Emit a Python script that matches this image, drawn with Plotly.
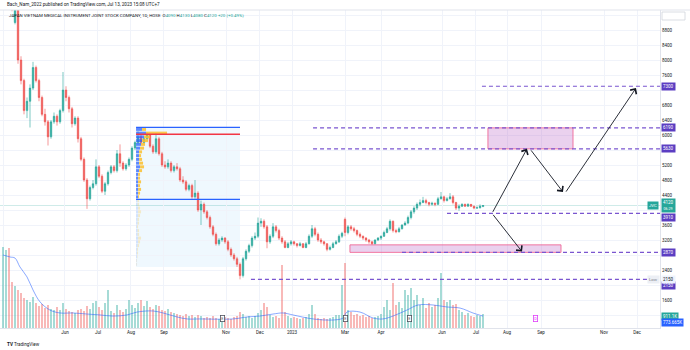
import plotly.graph_objects as go

# ---------------- daily candles (two trading days per bar) ----------------
open_ = [9600, 10150, 10450, 9850, 9000, 9400, 8000, 7450, 6650, 6900,
         7250, 7800, 7450, 7000, 6550, 6350, 5950, 6350, 6500, 6350,
         6650, 7200, 7000, 6700, 6300, 6450, 5900, 5350, 4800, 4300,
         4600, 4700, 5150, 4900, 4500, 4700, 5000, 5150, 5050, 5500,
         5250, 5100, 5200, 5350, 5650, 5800, 5950, 5800, 5900, 6000,
         5700, 5550, 5900, 5500, 5200, 5150, 5250, 5050, 5150, 5100,
         4800, 4750, 4550, 4650, 4350, 4450, 4000, 4150, 3950, 3800,
         3550, 3350, 3100, 3200, 3250, 3150, 2950, 2800, 2700, 2550,
         2250, 2700, 2900, 3050, 3250, 3300, 3650, 3700, 3550, 3150,
         3300, 3550, 3450, 3250, 3150, 3000, 3100, 3150, 3100, 3050,
         3100, 3000, 3100, 3300, 3500, 3350, 3200, 3150, 3100, 2950,
         3000, 3100, 3150, 3300, 3750, 3400, 3550, 3500, 3450, 3350,
         3300, 3250, 3200, 3150, 3100, 3200, 3250, 3300, 3400, 3500,
         3700, 3450, 3420, 3500, 3600, 3650, 3800, 3950, 4050, 4150,
         4200, 4250, 4200, 4150, 4180, 4150, 4300, 4350, 4250, 4300,
         4350, 4200, 4050, 4100, 4150, 4100, 4150, 4100, 4050, 4060,
         4090]
high = [10250, 10600, 10550, 9950, 9450, 9450, 8100, 7500, 7000, 7350,
        7950, 7850, 7500, 7050, 6700, 6400, 6400, 6600, 6550, 6700,
        7680, 7300, 7050, 6750, 6500, 6500, 5950, 5400, 4850, 4650,
        4800, 5350, 5200, 4950, 4750, 5050, 5200, 5200, 5600, 5750,
        5300, 5250, 5400, 5700, 5850, 6100, 6000, 5950, 6080, 6020,
        5750, 6050, 5950, 5550, 5300, 5350, 5300, 5200, 5250, 5150,
        4900, 4800, 4700, 4700, 4800, 4500, 4250, 4200, 4000, 3850,
        3600, 3400, 3250, 3300, 3280, 3200, 3000, 2850, 2750, 2600,
        2750, 2950, 3100, 3300, 3400, 3800, 3780, 3750, 3600, 3350,
        3650, 3600, 3500, 3300, 3200, 3150, 3200, 3180, 3120, 3150,
        3120, 3150, 3350, 3600, 3550, 3400, 3250, 3180, 3120, 3050,
        3150, 3200, 3350, 3420, 3800, 3600, 3600, 3550, 3480, 3400,
        3320, 3280, 3230, 3180, 3220, 3280, 3320, 3450, 3550, 3750,
        3720, 3500, 3550, 3620, 3700, 3850, 4000, 4100, 4200, 4280,
        4350, 4300, 4220, 4220, 4200, 4350, 4480, 4380, 4350, 4450,
        4400, 4220, 4150, 4180, 4170, 4180, 4160, 4110, 4100, 4150,
        4130]
low = [9500, 10000, 9750, 9300, 8950, 7900, 7350, 6550, 6450, 6200,
       7200, 7400, 6900, 6500, 6250, 5720, 5900, 6300, 6250, 6300,
       6600, 6900, 6600, 6200, 6250, 5800, 5300, 4750, 4030, 4250,
       4550, 4650, 4850, 4450, 4400, 4650, 4950, 5000, 5000, 5150,
       5050, 5050, 5150, 5300, 5600, 5750, 5750, 5750, 5850, 5650,
       5500, 5500, 5450, 5150, 5100, 5100, 5000, 5000, 5050, 4750,
       4700, 4500, 4500, 4300, 4300, 3950, 3600, 3900, 3750, 3500,
       3300, 3050, 3050, 3150, 3100, 2900, 2750, 2650, 2480, 2150,
       2200, 2650, 2850, 3000, 3200, 3250, 3550, 3500, 2980, 3100,
       3250, 3400, 3200, 3100, 2980, 2980, 3050, 3050, 3000, 3030,
       2980, 2980, 3080, 3250, 3300, 3150, 3100, 3050, 2900, 2920,
       2980, 3080, 3120, 3250, 3300, 3350, 3450, 3400, 3300, 3250,
       3200, 3150, 3100, 3070, 3080, 3170, 3200, 3280, 3380, 3450,
       3400, 3380, 3400, 3480, 3580, 3620, 3750, 3900, 4000, 4100,
       4180, 4150, 4100, 4120, 4100, 4130, 4280, 4200, 4230, 4280,
       4150, 4000, 3980, 4080, 4080, 4090, 4080, 4020, 4030, 4040,
       4080]
close = [10150, 10450, 9850, 9350, 9400, 8000, 7450, 6650, 6900, 7250,
         7800, 7450, 7000, 6550, 6350, 5950, 6350, 6500, 6350, 6650,
         7200, 7000, 6700, 6300, 6450, 5900, 5350, 4800, 4300, 4600,
         4700, 5150, 4900, 4500, 4700, 5000, 5150, 5050, 5500, 5250,
         5100, 5200, 5350, 5650, 5800, 5950, 5800, 5900, 6000, 5700,
         5550, 5900, 5500, 5200, 5150, 5250, 5050, 5150, 5100, 4800,
         4750, 4550, 4650, 4350, 4450, 4000, 4150, 3950, 3800, 3550,
         3350, 3100, 3200, 3250, 3150, 2950, 2800, 2700, 2550, 2250,
         2700, 2900, 3050, 3250, 3300, 3650, 3700, 3550, 3150, 3300,
         3550, 3450, 3250, 3150, 3000, 3100, 3150, 3100, 3050, 3100,
         3000, 3100, 3300, 3500, 3350, 3200, 3150, 3100, 2950, 3000,
         3100, 3150, 3300, 3380, 3400, 3550, 3500, 3450, 3350, 3300,
         3250, 3200, 3150, 3100, 3200, 3250, 3300, 3400, 3500, 3700,
         3450, 3420, 3500, 3600, 3650, 3800, 3950, 4050, 4150, 4200,
         4250, 4200, 4150, 4180, 4150, 4300, 4350, 4250, 4300, 4350,
         4200, 4050, 4100, 4150, 4100, 4150, 4100, 4050, 4060, 4100,
         4120]
volume_k = [5280, 5090, 5220, 3000, 2740, 2480, 2280, 1950, 1830, 1700,
            2020, 1630, 1430, 1560, 1300, 1500, 1240, 1170, 1370, 1170,
            1630, 1240, 1110, 1040, 980, 1170, 1240, 1110, 1430, 1240,
            1630, 1760, 1370, 1170, 1630, 2480, 1110, 980, 1500, 1170,
            1040, 1240, 1830, 1500, 1300, 1630, 1830, 1430, 1760, 1370,
            1240, 1500, 1430, 1170, 1110, 1240, 1040, 980, 910, 850,
            780, 910, 780, 850, 720, 850, 780, 650, 720, 650,
            780, 650, 590, 650, 720, 650, 590, 720, 780, 1040,
            910, 720, 780, 650, 780, 980, 1170, 1630, 1370, 850,
            720, 780, 650, 4110, 1040, 780, 650, 720, 650, 590,
            650, 720, 910, 1500, 910, 650, 590, 650, 590, 650,
            720, 850, 850, 2800, 4240, 1170, 1040, 850, 910, 780,
            850, 720, 780, 650, 720, 780, 910, 1370, 1830, 1170,
            2930, 1500, 1700, 1300, 2480, 2150, 2610, 1830, 2150, 1500,
            1960, 1300, 1630, 1370, 1500, 1960, 3590, 1830, 1700, 1830,
            1500, 1560, 1170, 1040, 850, 980, 780, 720, 850, 780,
            911.1]
bar_day = list(range(0, 2 * len(close), 2))

# 20-day volume moving average
vol_ma_day = [0, 4.7, 8, 11.3, 16, 20, 24.7, 31.3, 38, 46.7, 56, 64.7, 73.3,
              82.7, 89.3, 100, 106.7, 116, 122.7, 131.3, 153.3, 162.7, 171.3,
              180, 186.7, 193.3, 206.7, 220, 226.7, 229.3, 238, 246.7, 253.3,
              260, 269.3, 276.7, 286.7, 296, 304.7, 313.3, 320]
vol_ma_k = [4760, 4630, 4560, 3980, 3330, 2480, 1700, 1170, 980, 980, 910,
            850, 780, 850, 1040, 1110, 980, 720, 590, 590, 590, 720, 780,
            910, 980, 850, 590, 520, 650, 1040, 1040, 650, 590, 780, 1170,
            1500, 1500, 1370, 1300, 980, 773.665]

# time axis
month_day = [0, 41.3, 63.3, 85.3, 107.3, 148.7, 171.3, 192.7, 228, 252,
             292.7, 315.3, 336, 358.7, 400.7, 422.7]
month_label = ["Apr", "Jun", "Jul", "Aug", "Sep", "Nov", "Dec", "2023", "Mar",
               "Apr", "Jun", "Jul", "Aug", "Sep", "Nov", "Dec"]

# price axis
price_tick = [1200, 1600, 2000, 2400, 2800, 3200, 3600, 4000, 4400, 4800, 5200,
              5600, 6000, 6400, 6800, 7200, 7600, 8000, 8400, 8800, 9200]
price_tick_label = ["", "1600", "", "2400", "", "3200", "3600", "", "4400",
                    "4800", "5200", "", "6000", "6400", "6800", "", "7600",
                    "8000", "8400", "8800", ""]

# fixed-range volume profile (Aug - early Nov 2022), thousand shares per row
vp_price = [6150, 6050, 5950, 5850, 5750, 5650, 5550, 5450, 5350, 5250, 5150,
            5050, 4950, 4850, 4750, 4650, 4550, 4450, 4350, 4250, 4150, 4050,
            3950, 3850, 3750, 3650, 3550, 3450, 3350, 3250, 3150, 3050, 2950,
            2850, 2750, 2650, 2550]
vp_up_k = [3000, 5000, 4000, 3000, 2500, 2000, 1500, 1500, 1500, 1500, 2000,
           1500, 1000, 1000, 1000, 1000, 1000, 1000, 1000, 750, 750, 1000,
           1000, 1000, 750, 750, 500, 750, 750, 1000, 1000, 750, 500, 500,
           500, 250, 250]
vp_down_k = [2000, 10500, 3000, 3000, 2000, 2000, 1500, 1000, 1500, 2000, 2000,
             1500, 1000, 1000, 1500, 1000, 1500, 1000, 500, 750, 750, 1000,
             1500, 1000, 750, 750, 500, 750, 750, 1500, 1000, 750, 500, 500,
             250, 250, 250]
vp_day_range = [88.7, 158]
vp_price_range = [2480, 6205]
vp_poc = 6020
vp_val = 4285

# drawn horizontal levels
level_price = [7300, 6190, 5630, 3910, 2870, 2150]
level_start = [319.3, 206.7, 206.7, 296, 266, 165.3]
level_end = [438, 438, 438, 438, 438, 430]
level_label_shift = [0, 0, 0, -4, 0, -6.5]

# drawn zones
zone_day0 = [323.3, 231.3]
zone_day1 = [380, 372]
zone_lo = [5630, 2870]
zone_hi = [6190, 3070]

# projected path arrows
arrow_day0 = [326, 326, 351.3, 374.7]
arrow_p0 = [3910, 3910, 5630, 4450]
arrow_day1 = [346, 349.3, 373.3, 422]
arrow_p1 = [2890, 5630, 4480, 7250]

# event markers
earnings_day = [146, 228, 270.7]
dividend_day = [355.3]

# ---------------- layout geometry ----------------
W, H = 690, 350
ML, MR, MT, MB = 0, 30, 10, 22
PW, PH = W - ML - MR, H - MT - MB
X_RANGE = [-2, 438]
Y_RANGE = [853.3, 9333.3]
VOL_TOP_K = 20734
VP_K_PER_PX = 500
VP_LEFT_PX = ML + (vp_day_range[0] - X_RANGE[0]) / (X_RANGE[1] - X_RANGE[0]) * PW


def paper_x(px):
    return (px - ML) / PW


def paper_y(py):
    return (H - MB - py) / PH


TEAL, RED = "#26a69a", "#ef5350"
PURPLE_LINE, PURPLE_BOX = "#7a56d0", "#5c3ec2"
FONT = "Roboto, Arial, sans-serif"

fig = go.Figure()

# volume bars and average
vol_colors = ["rgba(38,166,154,0.42)" if c >= o else "rgba(239,83,80,0.42)"
              for o, c in zip(open_, close)]
fig.add_trace(go.Bar(x=bar_day, y=volume_k, yaxis="y2", width=1.3,
                     marker=dict(color=vol_colors, line=dict(width=0)),
                     hoverinfo="skip"))
fig.add_trace(go.Scatter(x=vol_ma_day, y=vol_ma_k, yaxis="y2", mode="lines",
                         line=dict(color="rgba(41,98,255,0.55)", width=1,
                                   shape="spline"),
                         hoverinfo="skip"))

# volume profile histogram
in_va = [vp_val <= p <= vp_price_range[1] for p in vp_price]
up_col = ["rgba(41,98,255,0.75)" if v else "rgba(41,98,255,0.15)" for v in in_va]
dn_col = ["rgba(251,192,45,0.85)" if v else "rgba(251,192,45,0.25)" for v in in_va]
fig.add_trace(go.Bar(y=vp_price, x=vp_up_k, base=[0] * len(vp_up_k),
                     orientation="h", xaxis="x2", yaxis="y", width=80,
                     marker=dict(color=up_col, line=dict(width=0)),
                     hoverinfo="skip"))
fig.add_trace(go.Bar(y=vp_price, x=vp_down_k, base=vp_up_k,
                     orientation="h", xaxis="x2", yaxis="y", width=80,
                     marker=dict(color=dn_col, line=dict(width=0)),
                     hoverinfo="skip"))

# candles
fig.add_trace(go.Candlestick(
    x=bar_day, open=open_, high=high, low=low, close=close,
    increasing=dict(line=dict(color=TEAL, width=0.6), fillcolor=TEAL),
    decreasing=dict(line=dict(color=RED, width=0.6), fillcolor=RED),
    whiskerwidth=0, hoverinfo="skip"))

shapes = []
# volume profile background and lines
shapes.append(dict(type="rect", xref="x", yref="y",
                   x0=vp_day_range[0], x1=vp_day_range[1],
                   y0=vp_price_range[0], y1=vp_price_range[1],
                   fillcolor="rgba(33,150,243,0.07)", line=dict(width=0),
                   layer="below"))
for p, col in [(vp_price_range[1], "#2962ff"), (vp_poc, "#f23645"), (vp_val, "#2962ff")]:
    shapes.append(dict(type="line", xref="x", yref="y",
                       x0=vp_day_range[0], x1=vp_day_range[1], y0=p, y1=p,
                       line=dict(color=col, width=1.3)))
# last price line
shapes.append(dict(type="line", xref="x", yref="y", x0=X_RANGE[0], x1=X_RANGE[1],
                   y0=close[-1], y1=close[-1], layer="below",
                   line=dict(color="rgba(38,166,154,0.22)", width=1)))
# zones
for d0, d1, lo, hi in zip(zone_day0, zone_day1, zone_lo, zone_hi):
    shapes.append(dict(type="rect", xref="x", yref="y", x0=d0, x1=d1, y0=lo, y1=hi,
                       fillcolor="rgba(186,104,200,0.3)",
                       line=dict(color="rgba(240,98,146,0.85)", width=1)))
# levels
for p, d0, d1 in zip(level_price, level_start, level_end):
    shapes.append(dict(type="line", xref="x", yref="y", x0=d0, x1=d1, y0=p, y1=p,
                       line=dict(color=PURPLE_LINE, width=1.2, dash="4px,3px")))
# header separator and top-right control
shapes.append(dict(type="line", xref="paper", yref="paper", x0=0, x1=W / PW,
                   y0=1, y1=1, line=dict(color="#e0e3eb", width=1)))
shapes.append(dict(type="rect", xref="paper", yref="paper",
                   x0=paper_x(662), x1=paper_x(685), y0=paper_y(20), y1=paper_y(12),
                   fillcolor="white", line=dict(color="#d1d4dc", width=0.8)))

ann = []
ann.append(dict(xref="paper", yref="paper", x=paper_x(5), y=paper_y(5),
                xanchor="left", yanchor="middle", showarrow=False,
                text="Bach_Nam_2022 published on TradingView.com, Jul 13, 2023 15:08 UTC+7",
                font=dict(size=4.6, color="#131722")))
tv = lambda v: f"<span style='color:{TEAL}'>{v}</span>"
chg = close[-1] - close[-2]
title = ("JAPAN VIETNAM MEDICAL INSTRUMENT JOINT STOCK COMPANY, 1D, HOSE  "
         f"O{tv(open_[-1])} H{tv(high[-1])} L{tv(low[-1])} C{tv(close[-1])} "
         + tv(f"{chg:+d} ({chg / close[-2] * 100:+.2f}%)"))
ann.append(dict(xref="paper", yref="paper", x=paper_x(7), y=paper_y(15.5),
                xanchor="left", yanchor="middle", showarrow=False, text=title,
                font=dict(size=4.4, color="#131722")))

# level labels on the price scale
for p, s in zip(level_price, level_label_shift):
    ann.append(dict(xref="paper", yref="y", x=paper_x(661), y=p, yshift=s,
                    xanchor="left", yanchor="middle", showarrow=False,
                    text=f"{p}", bgcolor=PURPLE_BOX, borderpad=1,
                    font=dict(size=4.5, color="white")))
# last price
ann.append(dict(xref="paper", yref="y", x=paper_x(661), y=close[-1],
                xanchor="left", yanchor="middle", showarrow=False,
                text=f"{close[-1]}<br><span style='font-size:3.6px'>06:29</span>",
                bgcolor=TEAL, borderpad=1, font=dict(size=4.5, color="white")))
ann.append(dict(xref="paper", yref="y", x=paper_x(659), y=close[-1],
                xanchor="right", yanchor="middle", showarrow=False, text="JVC",
                bgcolor=TEAL, borderpad=1, font=dict(size=4.3, color="white")))
# lowest price
ann.append(dict(xref="paper", yref="y", x=paper_x(659.5), y=min(low),
                xanchor="right", yanchor="middle", showarrow=False, text="Low",
                bgcolor="#eceff5", borderpad=1, font=dict(size=4.3, color="#787b86")))
ann.append(dict(xref="paper", yref="y", x=paper_x(661), y=min(low),
                xanchor="left", yanchor="middle", showarrow=False, text=f"{min(low)}",
                bgcolor="#eef3fd", borderpad=1, font=dict(size=4.5, color="#131722")))
# volume labels
ann.append(dict(xref="paper", yref="paper", x=paper_x(661), y=paper_y(316.5),
                xanchor="left", yanchor="middle", showarrow=False,
                text=f"{volume_k[-1]:.1f}K", bgcolor=TEAL, borderpad=1,
                font=dict(size=4.5, color="white")))
ann.append(dict(xref="paper", yref="paper", x=paper_x(661), y=paper_y(322.5),
                xanchor="left", yanchor="middle", showarrow=False,
                text=f"{vol_ma_k[-1]:.3f}K", bgcolor="#2962ff", borderpad=1,
                font=dict(size=4.5, color="white")))

# arrows
for d0, p0, d1, p1 in zip(arrow_day0, arrow_p0, arrow_day1, arrow_p1):
    ann.append(dict(xref="x", yref="y", axref="x", ayref="y", x=d1, y=p1, ax=d0, ay=p0,
                    text="", showarrow=True, arrowhead=4, arrowsize=1.6,
                    arrowwidth=0.9, arrowcolor="#131722", standoff=0))

# event markers
for d in earnings_day:
    ann.append(dict(xref="x", yref="paper", x=d, y=paper_y(321.5), showarrow=False,
                    text="E", bgcolor="white", bordercolor="#50535e", borderwidth=0.8,
                    borderpad=0.4, font=dict(size=3.8, color="#50535e")))
for d in dividend_day:
    ann.append(dict(xref="x", yref="paper", x=d, y=paper_y(321.5), showarrow=False,
                    text="D", bgcolor="white", bordercolor="#e040fb", borderwidth=0.8,
                    borderpad=0.4, font=dict(size=3.8, color="#e040fb")))

# footer
ann.append(dict(xref="paper", yref="paper", x=paper_x(5), y=paper_y(344),
                xanchor="left", yanchor="middle", showarrow=False,
                text="<b>TV</b> TradingView", font=dict(size=4.6, color="#131722")))

fig.update_layout(
    width=W, height=H, margin=dict(l=ML, r=MR, t=MT, b=MB),
    paper_bgcolor="white", plot_bgcolor="white", barmode="overlay",
    showlegend=False, font=dict(family=FONT, size=4.5, color="#131722"),
    xaxis=dict(range=X_RANGE, tickvals=month_day, ticktext=month_label,
               showgrid=True, gridcolor="#f0f3fa", zeroline=False, showline=True,
               linecolor="#e0e3eb", ticks="", tickfont=dict(size=4.5, color="#131722"),
               rangeslider=dict(visible=False), fixedrange=True),
    xaxis2=dict(overlaying="x", visible=False,
                range=[-VP_LEFT_PX * VP_K_PER_PX, (PW - VP_LEFT_PX) * VP_K_PER_PX]),
    yaxis=dict(side="right", range=Y_RANGE, tickvals=price_tick,
               ticktext=price_tick_label, showgrid=True, gridcolor="#f0f3fa",
               zeroline=False, showline=True, linecolor="#e0e3eb", ticks="",
               tickfont=dict(size=4.5, color="#131722"), fixedrange=True),
    yaxis2=dict(overlaying="y", range=[0, VOL_TOP_K], visible=False),
    shapes=shapes, annotations=ann,
)

fig.write_html("out.html")
